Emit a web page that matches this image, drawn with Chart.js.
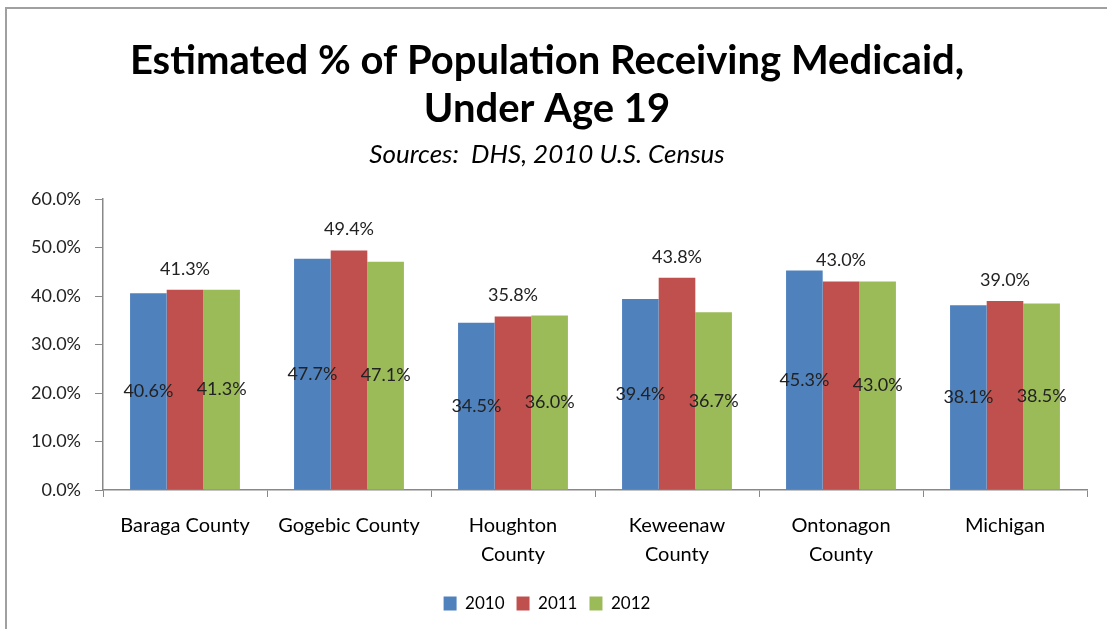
<!DOCTYPE html>
<html>
<head>
<meta charset="utf-8">
<script src="https://cdn.jsdelivr.net/npm/chart.js@4"></script>
<style>
  html, body { margin: 0; padding: 0; background: #fff; }
  #frame {
    position: absolute; left: 5px; top: 7px;
    width: 1102px; height: 622px;
    border-top: 2px solid #a0a0a0; border-left: 2px solid #a0a0a0;
  }
  #wrap { position: absolute; left: 0; top: 0; width: 1100px; height: 620px; }
</style>
</head>
<body>
<div id="frame"><div id="wrap"><canvas id="medicaidChart"></canvas></div></div>
<script>
// categories and values
const counties = ["Baraga County", "Gogebic County", ["Houghton", "County"], ["Keweenaw", "County"], ["Ontonagon", "County"], "Michigan"];
const years = ["2010", "2011", "2012"];
const values2010 = [40.6, 47.7, 34.5, 39.4, 45.3, 38.1];
const values2011 = [41.3, 49.4, 35.8, 43.8, 43.0, 39.0];
const values2012 = [41.3, 47.1, 36.0, 36.7, 43.0, 38.5];
const yTicks = [0, 10, 20, 30, 40, 50, 60];

const fontName = "Lato, 'Open Sans', sans-serif";

// prints the value on each bar: 2011 above the bar, the others in the middle
const barLabels = {
    id: "barLabels",
    afterDatasetsDraw(chart) {
        const ctx = chart.ctx;
        ctx.save();
        ctx.font = "18px " + fontName;
        ctx.fillStyle = "#222";
        ctx.textAlign = "center";
        ctx.textBaseline = "middle";
        chart.data.datasets.forEach(function(ds, i) {
            const meta = chart.getDatasetMeta(i);
            meta.data.forEach(function(bar, j) {
                const txt = ds.data[j].toFixed(1) + "%";
                let y;
                if (i == 1) {
                    y = bar.y - 21;
                } else {
                    y = (bar.y + bar.base) / 2;
                }
                ctx.fillText(txt, bar.x, y);
            });
        });
        ctx.restore();
    }
};

const medicaidChart = new Chart("medicaidChart", {
    type: "bar",
    data: {
        labels: counties,
        datasets: [{
            label: years[0],
            backgroundColor: "#4f81bd",
            data: values2010
        }, {
            label: years[1],
            backgroundColor: "#c0504d",
            data: values2011
        }, {
            label: years[2],
            backgroundColor: "#9bbb59",
            data: values2012
        }]
    },
    options: {
        responsive: true,
        maintainAspectRatio: false,
        animation: false,
        layout: { padding: { left: 0, right: 20, top: 3, bottom: 7 } },
        datasets: {
            bar: { categoryPercentage: 0.67, barPercentage: 1.0 }
        },
        plugins: {
            title: {
                display: true,
                text: ["Estimated % of Population Receiving Medicaid,", "Under Age 19"],
                font: { family: fontName, size: 40, weight: "bold" },
                color: "#000",
                lineHeight: 1.25,
                padding: { top: 25, bottom: 2 }
            },
            subtitle: {
                display: true,
                text: "Sources:  DHS, 2010 U.S. Census",
                font: { family: fontName, size: 26, style: "italic" },
                color: "#000",
                lineHeight: 1.0,
                padding: { top: 4, bottom: 29 }
            },
            legend: {
                position: "bottom",
                labels: {
                    boxWidth: 13,
                    boxHeight: 14,
                    padding: 12,
                    font: { family: fontName, size: 17 },
                    color: "#000"
                }
            },
            tooltip: { enabled: false }
        },
        scales: {
            x: {
                afterFit: function(axis) { axis.height = 93; },
                grid: {
                    offset: true,
                    drawOnChartArea: false,
                    color: "#888",
                    tickLength: 7
                },
                border: { color: "#888", width: 1.5 },
                ticks: {
                    font: { family: fontName, size: 20, lineHeight: 1.45 },
                    color: "#000",
                    maxRotation: 0,
                    autoSkip: false,
                    padding: 14
                }
            },
            y: {
                min: 0,
                max: 60,
                afterFit: function(axis) { axis.width = 96; },
                afterBuildTicks: function(axis) {
                    axis.ticks = yTicks.map(function(v) { return { value: v }; });
                },
                grid: {
                    drawOnChartArea: false,
                    color: "#888",
                    tickLength: 8
                },
                border: { color: "#888", width: 1.5 },
                ticks: {
                    font: { family: fontName, size: 18 },
                    color: "#222",
                    padding: 14,
                    callback: function(v) { return v.toFixed(1) + "%"; }
                }
            }
        }
    },
    plugins: [barLabels]
});
</script>
</body>
</html>
